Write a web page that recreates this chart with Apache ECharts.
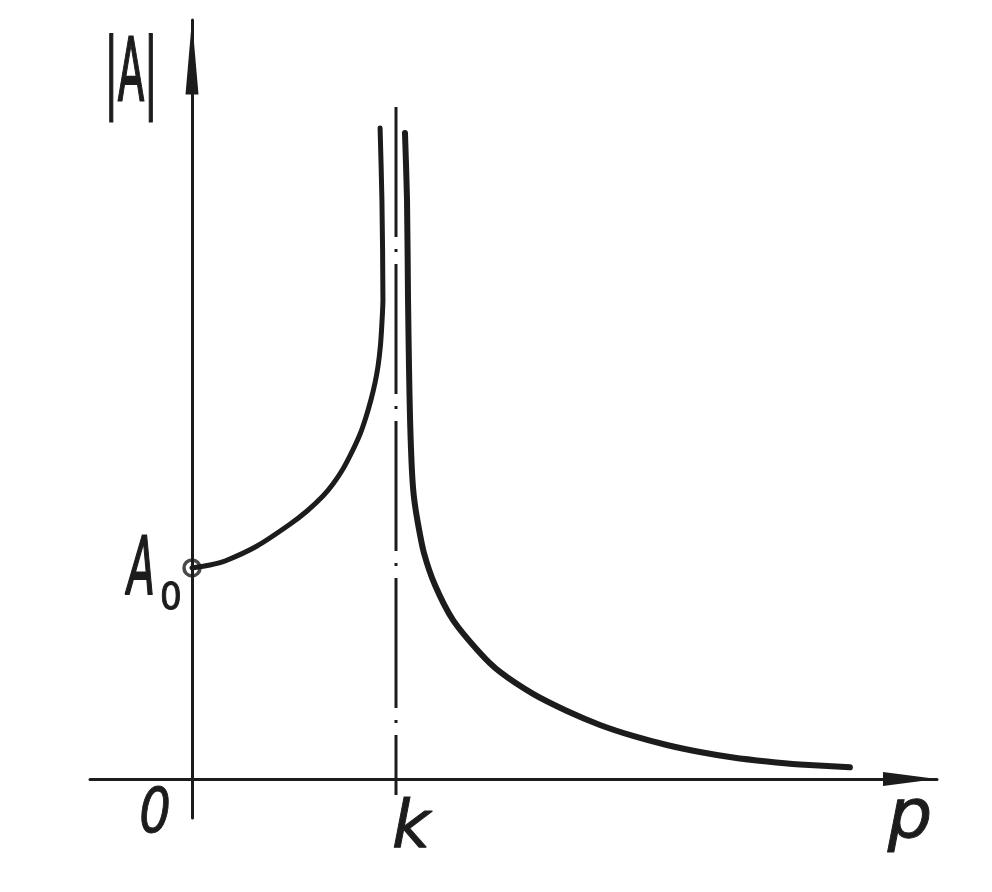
<!DOCTYPE html>
<html>
<head>
<meta charset="utf-8">
<script src="https://cdn.jsdelivr.net/npm/echarts@6/dist/echarts.min.js"></script>
<style>
html,body{margin:0;padding:0;background:#fff;}
#c{width:992px;height:892px;}
</style>
</head>
<body>
<div id="c"></div>
<script>
// p in units of k, |A| in units of A0
const leftP  = [0, 0.088, 0.162, 0.319, 0.480, 0.564, 0.642, 0.691, 0.740, 0.784, 0.824, 0.853, 0.877, 0.897, 0.912, 0.924, 0.931, 0.936, 0.931, 0.922];
const leftA  = [1.0, 1.014, 1.033, 1.104, 1.207, 1.270, 1.341, 1.398, 1.469, 1.550, 1.635, 1.716, 1.796, 1.877, 1.957, 2.057, 2.161, 2.270, 2.744, 3.085];
const rightP = [1.044, 1.054, 1.059, 1.064, 1.069, 1.078, 1.088, 1.108, 1.137, 1.191, 1.279, 1.412, 1.510, 1.672, 1.838, 2.000, 2.162, 2.328, 2.490, 2.652, 2.819, 2.980, 3.225];
const rightA = [3.062, 2.744, 2.270, 1.938, 1.701, 1.464, 1.336, 1.209, 1.071, 0.919, 0.754, 0.597, 0.507, 0.403, 0.322, 0.256, 0.204, 0.161, 0.128, 0.102, 0.083, 0.069, 0.055];
const kValue = 1;
const a0Value = 1;
const asymptoteA = [3.185, -0.076];
const labelTexts = { yName: '|A|', a0: 'A', a0Sub: '0', origin: '0', k: 'k', xName: 'p' };

const ink = '#1c1c1c';
const pairs = (xs, ys) => xs.map((x, i) => [x, ys[i]]);

const chart = echarts.init(document.getElementById('c'), null, { renderer: 'canvas' });
const font = (size, style) => (style || 'normal') + ' ' + size + 'px "DejaVu Sans"';

const option = {
  animation: false,
  backgroundColor: '#fff',
  grid: { left: 90, right: 55, top: 20, bottom: 74 },
  xAxis: {
    type: 'value', min: -0.5, max: 3.652,
    axisLine: { onZero: true, lineStyle: { color: ink, width: 3 },
      symbol: ['none', 'triangle'], symbolSize: [14, 54], symbolOffset: [0, -27] },
    axisTick: { show: false }, axisLabel: { show: false }, splitLine: { show: false }
  },
  yAxis: {
    type: 'value', min: -0.185, max: 3.597,
    axisLine: { onZero: true, lineStyle: { color: ink, width: 3 },
      symbol: ['none', 'triangle'], symbolSize: [13, 75], symbolOffset: [0, -37] },
    axisTick: { show: false }, axisLabel: { show: false }, splitLine: { show: false }
  },
  series: [
    {
      type: 'line', data: asymptoteA.map(a => [kValue, a]), symbol: 'none',
      lineStyle: { color: ink, width: 3, type: [130, 12, 3, 12], cap: 'butt' }, z: 2
    },
    {
      type: 'line', data: pairs(leftP, leftA), symbol: 'none', smooth: 0.25,
      lineStyle: { color: ink, width: 5, cap: 'round', join: 'round' }, z: 3
    },
    {
      type: 'line', data: pairs(rightP, rightA), symbol: 'none', smooth: 0.25,
      lineStyle: { color: ink, width: 6, cap: 'round', join: 'round' }, z: 3
    },
    {
      type: 'scatter', data: [[0, a0Value]], symbol: 'circle', symbolSize: 16,
      itemStyle: { color: 'transparent', borderColor: ink, borderWidth: 3.5 }, z: 4
    }
  ],
  graphic: [
    { type: 'text', x: 131, y: 77, scaleX: 0.44,
      style: { text: labelTexts.yName, font: font(88), fill: ink, stroke: ink, lineWidth: 2, align: 'center', verticalAlign: 'middle' } },
    { type: 'text', x: 141, y: 573, scaleX: 0.5,
      style: { text: labelTexts.a0, font: font(81, 'italic'), fill: ink, stroke: ink, lineWidth: 2, align: 'center', verticalAlign: 'middle' } },
    { type: 'text', x: 171, y: 599, scaleX: 0.9,
      style: { text: labelTexts.a0Sub, font: font(38), fill: ink, stroke: ink, lineWidth: 1, align: 'center', verticalAlign: 'middle' } },
    { type: 'text', x: 155, y: 816, scaleX: 0.8,
      style: { text: labelTexts.origin, font: font(62, 'italic'), fill: ink, stroke: ink, lineWidth: 1, align: 'center', verticalAlign: 'middle' } },
    { type: 'text', x: 411, y: 830,
      style: { text: labelTexts.k, font: font(66, 'italic'), fill: ink, stroke: ink, lineWidth: 1, align: 'center', verticalAlign: 'middle' } },
    { type: 'text', x: 910, y: 820,
      style: { text: labelTexts.xName, font: font(70, 'italic'), fill: ink, stroke: ink, lineWidth: 1, align: 'center', verticalAlign: 'middle' } }
  ]
};
chart.setOption(option);
</script>
</body>
</html>
